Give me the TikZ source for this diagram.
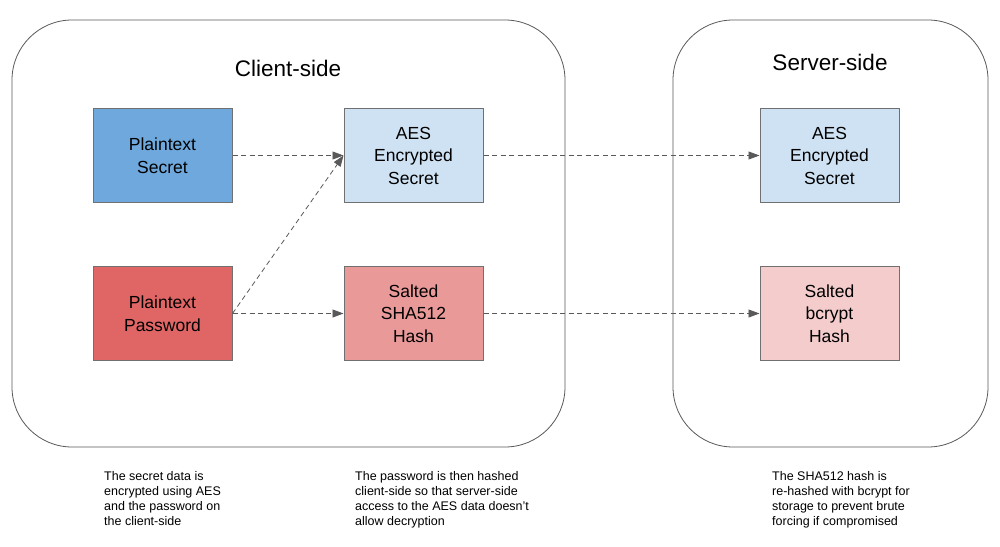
\documentclass[tikz,border=0pt]{standalone}
\usepackage{fontspec}
\usepackage{xcolor}
\setmainfont{Liberation Sans}
\usetikzlibrary{arrows.meta, positioning}
\definecolor{secretBlue}{HTML}{6FA8DC}
\definecolor{aesBlue}{HTML}{CFE2F3}
\definecolor{passwordRed}{HTML}{E06666}
\definecolor{shaRed}{HTML}{EA9999}
\definecolor{bcryptRed}{HTML}{F4CCCC}
\definecolor{edgeGray}{RGB}{112, 112, 112}
\definecolor{arrowGray}{RGB}{89, 89, 89}

\begin{document}
\begin{tikzpicture}[
        x=1pt, y=-1pt,
        node distance=63pt and 111pt,
        panel/.style={rectangle, draw=arrowGray, line width=0.8pt, rounded corners=60pt, minimum width=553pt, minimum height=427pt},
        box/.style={rectangle, draw=edgeGray, line width=1pt, minimum width=139pt, minimum height=94pt, align=center, font=\fontsize{17.5}{22.5}\selectfont},
        title/.style={font=\fontsize{22.5}{26}\selectfont},
        note/.style={anchor=north west, inner sep=0pt, align=left, font=\fontsize{12.5}{15}\selectfont},
        arrow/.style={-{Triangle[length=11pt, width=8pt]}, arrowGray, line width=0.8pt, dash pattern=on 5pt off 3.5pt}
    ]
        \useasboundingbox (0,0) rectangle (1000,546);
        % the two sides
        \node[panel] (client) at (288.5,233.5) {};
        \node[panel, minimum width=315pt] (server) at (830.5,233.5) {};
        \node[title] (clienttitle) at (288,68) {Client-side};
        \node[title] (servertitle) at (830,62) {Server-side};
        
        \node[box, fill=secretBlue] (secret) at (162.5,155.5) {Plaintext\\Secret};
        \node[box, fill=aesBlue, right=of secret] (aes) {AES\\Encrypted\\Secret};
        \node[box, fill=passwordRed, below=of secret] (password) {Plaintext\\Password};
        \node[box, fill=shaRed, right=of password] (sha) {Salted\\SHA512\\Hash};
        \node[box, fill=aesBlue, right=276pt of aes] (saes) {AES\\Encrypted\\Secret};
        \node[box, fill=bcryptRed, below=of saes] (bcrypt) {Salted\\bcrypt\\Hash};
        
        \draw[arrow] (secret) -- (aes);
        \draw[arrow] (password.east) -- (aes.west);
        \draw[arrow] (password) -- (sha);
        \draw[arrow] (aes) -- (saes);
        \draw[arrow] (sha) -- (bcrypt);
        
        % notes under the sides
        \node[note] (note1) at (104,471.5) {The secret data is\\encrypted using AES\\and the password on\\the client-side};
        \node[note] (note2) at (355,471.5) {The password is then hashed\\client-side so that server-side\\access to the AES data doesn't\\allow decryption};
        \node[note] (note3) at (772,471.5) {The SHA512 hash is\\re-hashed with bcrypt for\\storage to prevent brute\\forcing if compromised};
    \end{tikzpicture}
\end{document}
